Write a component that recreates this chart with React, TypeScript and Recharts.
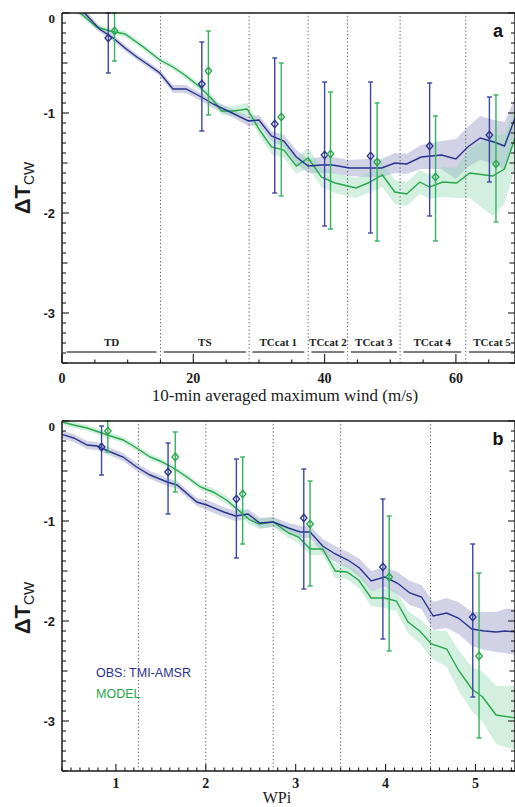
import React from 'react'
import { ComposedChart, Line, Area, Scatter, ErrorBar, XAxis, YAxis, ReferenceLine } from 'recharts'

const BLUE = '#27338d'
const GREEN = '#27a74a'
const BLUE_BAND = '#9a9cc8'
const GREEN_BAND = '#8fd8b2'
const AXIS = '#1a1a1a'
const DOTS = '#555555'

// ---- panel a: 10-min averaged maximum wind (m/s)
const windObsX = [3.0, 4.0, 5.7, 7.8, 9.6, 11.4, 13.2, 14.9, 16.9, 18.9, 21.5, 23.0, 25.6, 28.4, 30.0, 31.9, 33.8, 35.7, 37.5, 39.5, 41.2, 43.8, 46.2, 48.7, 50.7, 52.5, 54.7, 57.8, 60.0, 61.8, 63.7, 65.8, 67.4, 69.0]
const windObsY = [0.03, -0.04, -0.16, -0.25, -0.35, -0.44, -0.52, -0.6, -0.76, -0.76, -0.85, -0.91, -0.99, -1.08, -1.07, -1.23, -1.28, -1.44, -1.53, -1.52, -1.52, -1.55, -1.55, -1.55, -1.5, -1.51, -1.44, -1.42, -1.46, -1.34, -1.25, -1.29, -1.33, -1.05]
const windObsSpread = [0.04, 0.04, 0.03, 0.03, 0.03, 0.03, 0.03, 0.03, 0.04, 0.04, 0.04, 0.04, 0.04, 0.05, 0.05, 0.05, 0.06, 0.07, 0.07, 0.08, 0.08, 0.08, 0.09, 0.09, 0.1, 0.1, 0.12, 0.14, 0.2, 0.2, 0.22, 0.22, 0.24, 0.2]

const windModelX = [2.2, 5.3, 7.3, 9.6, 12.4, 14.9, 16.9, 18.7, 21.0, 23.0, 24.3, 26.1, 28.2, 30.1, 31.9, 33.8, 35.7, 37.5, 39.5, 41.6, 44.8, 46.6, 48.8, 50.7, 52.5, 54.5, 56.0, 58.0, 60.1, 62.1, 65.6, 67.4, 69.0]
const windModelY = [0.03, -0.14, -0.18, -0.21, -0.34, -0.47, -0.54, -0.62, -0.74, -0.87, -0.98, -0.98, -0.96, -1.17, -1.34, -1.37, -1.53, -1.45, -1.64, -1.7, -1.75, -1.7, -1.62, -1.79, -1.81, -1.69, -1.74, -1.69, -1.7, -1.6, -1.63, -1.56, -1.25]
const windModelSpread = [0.03, 0.03, 0.03, 0.03, 0.03, 0.03, 0.03, 0.03, 0.04, 0.04, 0.04, 0.05, 0.06, 0.06, 0.07, 0.08, 0.08, 0.1, 0.1, 0.1, 0.1, 0.1, 0.12, 0.12, 0.12, 0.12, 0.12, 0.15, 0.15, 0.25, 0.4, 0.35, 0.3]

const windBarObsX = [7.05, 21.3, 32.4, 40.0, 47.0, 56.0, 65.1]
const windBarObsY = [-0.25, -0.71, -1.11, -1.42, -1.43, -1.33, -1.22]
const windBarObsHi = [0, -0.29, -0.45, -0.69, -0.69, -0.7, -0.84]
const windBarObsLo = [-0.6, -1.18, -1.8, -2.13, -2.2, -2.03, -1.69]

const windBarModelX = [8.0, 22.3, 33.4, 40.9, 48.0, 56.9, 66.1]
const windBarModelY = [-0.18, -0.58, -1.04, -1.41, -1.49, -1.64, -1.51]
const windBarModelHi = [0, -0.18, -0.5, -0.79, -0.9, -1.03, -0.82]
const windBarModelLo = [-0.48, -1.02, -1.83, -2.16, -2.28, -2.28, -2.09]

const windBounds = [15, 28.5, 37.5, 43.5, 51.5, 61.5]
const categories = ['TD', 'TS', 'TCcat 1', 'TCcat 2', 'TCcat 3', 'TCcat 4', 'TCcat 5']
const catStart = [0.7, 15.5, 29, 38, 44, 52, 62]
const catEnd = [14.4, 28, 36.9, 43, 51, 60.8, 69]
const catLevel = -3.39

// ---- panel b: WPi
const wpiObsX = [0.35, 0.53, 0.68, 0.79, 0.94, 1.08, 1.23, 1.38, 1.57, 1.68, 1.9, 2.01, 2.2, 2.33, 2.47, 2.6, 2.75, 2.92, 3.05, 3.16, 3.3, 3.44, 3.58, 3.71, 3.84, 3.99, 4.13, 4.27, 4.4, 4.53, 4.68, 4.81, 4.96, 5.1, 5.23, 5.33, 5.45]
const wpiObsY = [-0.12, -0.17, -0.24, -0.25, -0.31, -0.36, -0.46, -0.54, -0.61, -0.64, -0.81, -0.84, -0.91, -0.95, -0.93, -1.02, -1.01, -1.07, -1.11, -1.11, -1.25, -1.33, -1.39, -1.47, -1.6, -1.56, -1.62, -1.72, -1.76, -1.95, -1.92, -1.97, -2.08, -2.1, -2.11, -2.1, -2.11]
const wpiObsSpread = [0.04, 0.04, 0.04, 0.04, 0.04, 0.04, 0.04, 0.04, 0.04, 0.04, 0.04, 0.05, 0.05, 0.05, 0.05, 0.05, 0.05, 0.05, 0.06, 0.06, 0.07, 0.08, 0.08, 0.09, 0.1, 0.1, 0.11, 0.12, 0.12, 0.14, 0.15, 0.16, 0.17, 0.19, 0.2, 0.22, 0.23]

const wpiModelX = [0.35, 0.53, 0.68, 0.94, 1.08, 1.23, 1.38, 1.49, 1.64, 1.79, 1.94, 2.08, 2.23, 2.4, 2.49, 2.6, 2.75, 2.92, 3.03, 3.16, 3.3, 3.44, 3.57, 3.7, 3.84, 3.99, 4.12, 4.25, 4.38, 4.51, 4.68, 4.81, 4.96, 5.08, 5.23, 5.45]
const wpiModelY = [0.0, -0.04, -0.07, -0.15, -0.19, -0.27, -0.36, -0.4, -0.47, -0.56, -0.66, -0.71, -0.79, -0.92, -0.99, -1.03, -1.01, -1.12, -1.16, -1.28, -1.28, -1.5, -1.51, -1.59, -1.77, -1.77, -1.8, -2.01, -2.1, -2.23, -2.28, -2.49, -2.68, -2.76, -2.94, -2.97]
const wpiModelSpread = [0.03, 0.03, 0.03, 0.03, 0.03, 0.03, 0.03, 0.03, 0.03, 0.03, 0.03, 0.04, 0.04, 0.04, 0.05, 0.05, 0.05, 0.05, 0.06, 0.06, 0.06, 0.07, 0.07, 0.08, 0.08, 0.1, 0.1, 0.11, 0.12, 0.14, 0.18, 0.2, 0.22, 0.25, 0.29, 0.32]

const wpiBarObsX = [0.84, 1.58, 2.34, 3.09, 3.97, 4.97]
const wpiBarObsY = [-0.26, -0.51, -0.78, -0.97, -1.46, -1.96]
const wpiBarObsHi = [-0.05, -0.22, -0.38, -0.48, -0.78, -1.23]
const wpiBarObsLo = [-0.54, -0.93, -1.37, -1.68, -2.18, -2.76]

const wpiBarModelX = [0.91, 1.66, 2.41, 3.16, 4.04, 5.04]
const wpiBarModelY = [-0.1, -0.36, -0.73, -1.03, -1.56, -2.35]
const wpiBarModelHi = [0, -0.11, -0.36, -0.6, -0.95, -1.52]
const wpiBarModelLo = [-0.31, -0.71, -1.23, -1.65, -2.3, -3.17]

const wpiBounds = [1.25, 2, 2.75, 3.5, 4.5]

const yDomain = [-3.5, 0]
const yTicks = Array.from({ length: 36 }, (_, i) => -Math.round(i) / 10)

const toLine = (xs: number[], ys: number[], sp: number[]) =>
  xs.map((x, i) => ({ x, v: ys[i], band: [ys[i] - sp[i], ys[i] + sp[i]] }))

const toBars = (xs: number[], ys: number[], hi: number[], lo: number[]) =>
  xs.map((x, i) => ({ x, v: ys[i], err: [ys[i] - lo[i], hi[i] - ys[i]] }))

const isInt = (v: number) => Math.abs(v - Math.round(v)) < 1e-6
const isHalf = (v: number) => Math.abs(v * 2 - Math.round(v * 2)) < 1e-6

const diamond = (color: string) => (props: any) => {
  const { cx, cy } = props
  if (cx == null || cy == null) return <g />
  return (
    <polygon
      points={`${cx},${cy - 3.8} ${cx + 3.3},${cy} ${cx},${cy + 3.8} ${cx - 3.3},${cy}`}
      fill="none"
      stroke={color}
      strokeWidth={1.3}
    />
  )
}

const makeYTick = (side: 'left' | 'right') => (props: any) => {
  const { x, y, payload } = props
  const v = payload.value
  const len = isInt(v) ? 7 : isHalf(v) ? 5.5 : 4
  const dir = side === 'left' ? 1 : -1
  return (
    <g>
      <line x1={x} y1={y} x2={x + dir * len} y2={y} stroke={AXIS} strokeWidth={1.1} />
      {side === 'left' && isInt(v) && (
        <text
          x={x - 7}
          y={v === 0 ? y + 5 : y}
          dy="0.35em"
          textAnchor="end"
          fontSize={13}
          fontWeight="bold"
          fontFamily={v === 0 ? 'Liberation Serif' : 'Liberation Sans'}
          fill={AXIS}
        >
          {v === 0 ? '0' : String(v)}
        </text>
      )}
    </g>
  )
}

const makeXTick = (side: 'top' | 'bottom', isMajor: (v: number) => boolean, majorLen: number, labelDy: number) => (props: any) => {
  const { x, y, payload } = props
  const v = payload.value
  const major = isMajor(v)
  const len = major ? majorLen : 3.5
  const dir = side === 'bottom' ? -1 : 1
  return (
    <g>
      <line x1={x} y1={y} x2={x} y2={y + dir * len} stroke={AXIS} strokeWidth={1.1} />
      {side === 'bottom' && major && (
        <text x={x} y={y + labelDy} textAnchor="middle" fontSize={14} fontWeight="bold" fontFamily="Liberation Serif" fill={AXIS}>
          {String(Math.round(v))}
        </text>
      )}
    </g>
  )
}

interface PanelProps {
  top: number
  height: number
  marginTop: number
  marginBottom: number
  xDomain: number[]
  xTicks: number[]
  isMajorX: (v: number) => boolean
  majorLen: number
  labelDy: number
  bounds: number[]
  obs: { x: number; v: number; band: number[] }[]
  model: { x: number; v: number; band: number[] }[]
  obsBars: { x: number; v: number; err: number[] }[]
  modelBars: { x: number; v: number; err: number[] }[]
  showCats?: boolean
}

// axes take 1px each, so margins are 1px smaller than the plot offsets
const Panel: React.FC<PanelProps> = (p) => (
  <div style={{ position: 'absolute', left: 0, top: p.top }}>
    <ComposedChart
      width={515}
      height={p.height}
      margin={{ top: p.marginTop - 1, right: -1, bottom: p.marginBottom - 1, left: 61 }}
      style={{ overflow: 'visible' }}
    >
      <XAxis
        type="number"
        dataKey="x"
        domain={p.xDomain}
        ticks={p.xTicks}
        interval={0}
        allowDataOverflow
        height={1}
        tickSize={0}
        tickMargin={0}
        tickLine={false}
        axisLine={{ stroke: AXIS, strokeWidth: 1.5 }}
        tick={makeXTick('bottom', p.isMajorX, p.majorLen, p.labelDy)}
      />
      <XAxis
        xAxisId="top"
        orientation="top"
        type="number"
        domain={p.xDomain}
        ticks={p.xTicks}
        interval={0}
        allowDataOverflow
        height={1}
        tickSize={0}
        tickMargin={0}
        tickLine={false}
        axisLine={{ stroke: AXIS, strokeWidth: 1.5 }}
        tick={makeXTick('top', p.isMajorX, p.majorLen, 0)}
      />
      <YAxis
        type="number"
        domain={yDomain}
        ticks={yTicks}
        interval={0}
        allowDataOverflow
        width={1}
        tickSize={0}
        tickMargin={0}
        tickLine={false}
        axisLine={{ stroke: AXIS, strokeWidth: 1.5 }}
        tick={makeYTick('left')}
      />
      <YAxis
        yAxisId="right"
        orientation="right"
        type="number"
        domain={yDomain}
        ticks={yTicks}
        interval={0}
        allowDataOverflow
        width={1}
        tickSize={0}
        tickMargin={0}
        tickLine={false}
        axisLine={{ stroke: AXIS, strokeWidth: 1.5 }}
        tick={makeYTick('right')}
      />

      {p.bounds.map((b) => (
        <ReferenceLine key={`b-${b}`} x={b} stroke={DOTS} strokeWidth={1} strokeDasharray="1.2 2.4" />
      ))}

      {p.showCats &&
        categories.map((c, i) => (
          <ReferenceLine
            key={`c-${c}`}
            segment={[
              { x: catStart[i], y: catLevel },
              { x: catEnd[i], y: catLevel },
            ]}
            stroke="#555"
            strokeWidth={1.5}
            label={{ value: c, position: 'top', offset: 6, fontSize: 11, fontWeight: 'bold', fontFamily: 'Liberation Serif', fill: '#222' }}
          />
        ))}

      <Area data={p.obs} dataKey="band" type="linear" stroke="none" fill={BLUE_BAND} fillOpacity={0.45} isAnimationActive={false} />
      <Area data={p.model} dataKey="band" type="linear" stroke="none" fill={GREEN_BAND} fillOpacity={0.4} isAnimationActive={false} />
      <Line data={p.model} dataKey="v" type="linear" stroke={GREEN} strokeWidth={1.4} dot={false} isAnimationActive={false} />
      <Line data={p.obs} dataKey="v" type="linear" stroke={BLUE} strokeWidth={1.4} dot={false} isAnimationActive={false} />

      <Scatter data={p.obsBars} dataKey="v" shape={diamond(BLUE)} isAnimationActive={false}>
        <ErrorBar dataKey="err" direction="y" width={2.5} stroke="#3b47a0" strokeWidth={1.4} />
      </Scatter>
      <Scatter data={p.modelBars} dataKey="v" shape={diamond(GREEN)} isAnimationActive={false}>
        <ErrorBar dataKey="err" direction="y" width={2.5} stroke="#35b15c" strokeWidth={1.4} />
      </Scatter>
    </ComposedChart>
  </div>
)

const windTicks = Array.from({ length: 14 }, (_, i) => i * 5)
const wpiTicks = Array.from({ length: 51 }, (_, i) => Math.round(4 + i) / 10)

const YLabel: React.FC<{ cy: number }> = ({ cy }) => (
  <text transform={`translate(30,${cy}) rotate(-90)`} textAnchor="middle" fontFamily="Liberation Sans" fill={AXIS}>
    <tspan fontSize={22} fontWeight="bold">ΔT</tspan>
    <tspan fontSize={14} dy={4}>CW</tspan>
  </text>
)

export default function App() {
  return (
    <div style={{ position: 'absolute', left: 0, top: 0, width: 515, height: 807, background: '#fff', overflow: 'hidden' }}>
      <Panel
        top={0}
        height={405}
        marginTop={13}
        marginBottom={42}
        xDomain={[0, 69]}
        xTicks={windTicks}
        isMajorX={(v) => v % 20 === 0}
        majorLen={9}
        labelDy={20}
        bounds={windBounds}
        obs={toLine(windObsX, windObsY, windObsSpread)}
        model={toLine(windModelX, windModelY, windModelSpread)}
        obsBars={toBars(windBarObsX, windBarObsY, windBarObsHi, windBarObsLo)}
        modelBars={toBars(windBarModelX, windBarModelY, windBarModelHi, windBarModelLo)}
        showCats
      />
      <Panel
        top={405}
        height={402}
        marginTop={16}
        marginBottom={36}
        xDomain={[0.4, 5.44]}
        xTicks={wpiTicks}
        isMajorX={isInt}
        majorLen={7}
        labelDy={17}
        bounds={wpiBounds}
        obs={toLine(wpiObsX, wpiObsY, wpiObsSpread)}
        model={toLine(wpiModelX, wpiModelY, wpiModelSpread)}
        obsBars={toBars(wpiBarObsX, wpiBarObsY, wpiBarObsHi, wpiBarObsLo)}
        modelBars={toBars(wpiBarModelX, wpiBarModelY, wpiBarModelHi, wpiBarModelLo)}
      />
      <svg width={515} height={807} style={{ position: 'absolute', left: 0, top: 0, pointerEvents: 'none' }}>
        <text x={498} y={37} textAnchor="middle" fontSize={18} fontWeight="bold" fontFamily="Liberation Sans" fill="#111">a</text>
        <text x={498} y={445} textAnchor="middle" fontSize={18} fontWeight="bold" fontFamily="Liberation Sans" fill="#111">b</text>
        <YLabel cy={188} />
        <YLabel cy={608} />
        <text x={285} y={401} textAnchor="middle" fontSize={17} fontFamily="Liberation Serif" fill={AXIS}>
          10-min averaged maximum wind (m/s)
        </text>
        <text x={277} y={803} textAnchor="middle" fontSize={16} fontFamily="Liberation Serif" fill={AXIS}>WPi</text>
        <text x={96} y={677} fontSize={12.5} fontFamily="Liberation Sans" fill={BLUE}>OBS: TMI-AMSR</text>
        <text x={96} y={698} fontSize={12.5} fontFamily="Liberation Sans" fill={GREEN}>MODEL</text>
      </svg>
    </div>
  )
}
